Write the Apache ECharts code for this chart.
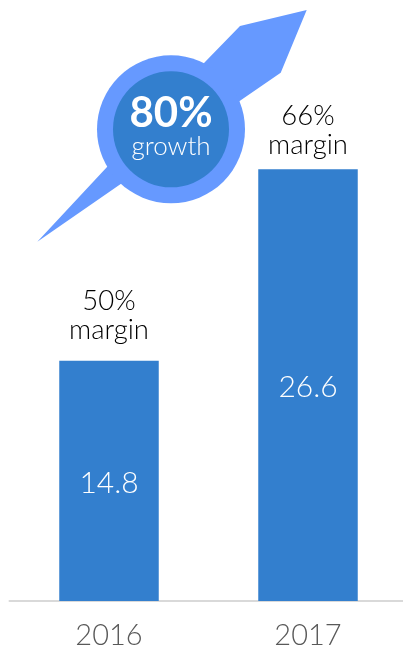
<!DOCTYPE html>
<html>
<head>
<meta charset="utf-8">
<style>html,body{margin:0;padding:0;background:#fff}#chart{width:403px;height:648px}</style>
<script src="https://cdn.jsdelivr.net/npm/echarts@6/dist/echarts.min.js"></script>
</head>
<body>
<div id="chart"></div>
<script>
const years = ['2016', '2017'];
const revenue = [14.8, 26.6];
const margins = [50, 66];
const marginLift = [7, 1];
const growth = '80%';
const growthCaption = 'growth';

const FONT = 'Lato';
const BAR = '#337fce';
const BADGE = '#6699ff';

const chart = echarts.init(document.getElementById('chart'), null, { renderer: 'canvas' });
chart.setOption({
  animation: false,
  backgroundColor: '#fff',
  grid: { left: 9.5, top: 114, width: 398, height: 487, outerBoundsMode: 'none' },
  xAxis: {
    type: 'category',
    data: years,
    axisTick: { show: false },
    axisLine: { lineStyle: { color: '#d9d9d9', width: 2 } },
    axisLabel: { color: '#595959', fontFamily: FONT, fontWeight: 300, fontSize: 29, margin: 20 }
  },
  yAxis: { type: 'value', min: 0, max: 30, interval: 10, show: false },
  series: [
    {
      type: 'bar',
      data: revenue,
      barWidth: 99.5,
      itemStyle: { color: BAR },
      label: {
        show: true, position: 'inside', offset: [0, 2], color: '#fff',
        fontFamily: FONT, fontWeight: 300, fontSize: 30,
        formatter: p => p.value.toFixed(1)
      },
      silent: true
    },
    {
      // Invisible twin of the bars that carries the margin captions above them
      type: 'bar',
      barGap: '-100%',
      barWidth: 99.5,
      itemStyle: { color: 'transparent' },
      data: revenue.map((v, i) => ({
        value: v,
        label: {
          show: true, position: 'top', color: '#000',
          fontFamily: FONT, fontWeight: 300, fontSize: 27.5, lineHeight: 29,
          distance: 9 + marginLift[i],
          formatter: margins[i] + '%\nmargin'
        }
      })),
      silent: true
    }
  ],
  graphic: [
    {
      type: 'polygon',
      shape: { points: [[306.7, 10], [240, 26], [205, 62], [107, 167], [37.3, 241.7], [120.7, 184], [240, 100.7], [280.7, 72.7]] },
      style: { fill: BADGE }
    },
    { type: 'circle', shape: { cx: 171, cy: 129.3, r: 74 }, style: { fill: BADGE } },
    { type: 'circle', shape: { cx: 171, cy: 129.3, r: 58 }, style: { fill: BAR } },
    {
      type: 'text', x: 171, y: 113,
      style: { text: growth, fill: '#fff', font: 'bold 42px ' + FONT, textAlign: 'center', textVerticalAlign: 'middle' }
    },
    {
      type: 'text', x: 171, y: 147,
      style: { text: growthCaption, fill: '#fff', font: '300 26px ' + FONT, textAlign: 'center', textVerticalAlign: 'middle' }
    }
  ]
});
</script>
</body>
</html>
